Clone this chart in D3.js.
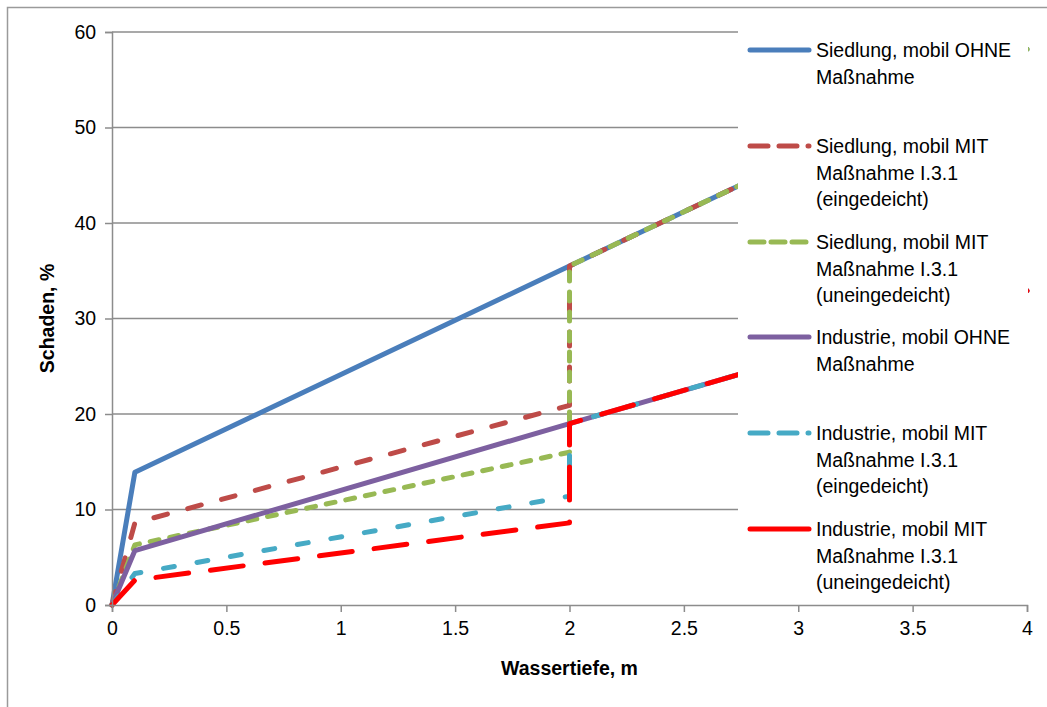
<!DOCTYPE html>
<html>
<head>
<meta charset="utf-8">
<script src="https://cdn.jsdelivr.net/npm/d3@7"></script>
<style>
  body { margin: 0; background: #fff; }
  text { font-family: "Liberation Sans", Arial, sans-serif; }
</style>
</head>
<body>
<div id="chart"></div>
<script>
// data
const depth = [0, 0.1, 2, 2, 4];
const siedlungOhne = [0, 13.9, 35.5, 35.5, 58.2];
const siedlungMitEin = [0, 8.6, 20.9, 35.5, 58.2];
const siedlungMitUnein = [0, 6.3, 16.0, 35.5, 58.2];
const industrieOhne = [0, 5.7, 19.0, 19.0, 32.9];
const industrieMitEin = [0, 3.3, 11.4, 19.0, 32.9];
const industrieMitUnein = [0, 2.6, 8.6, 19.0, 32.9];

const seriesNames = [
  ["Siedlung, mobil OHNE", "Maßnahme"],
  ["Siedlung, mobil MIT", "Maßnahme I.3.1", "(eingedeicht)"],
  ["Siedlung, mobil MIT", "Maßnahme I.3.1", "(uneingedeicht)"],
  ["Industrie, mobil OHNE", "Maßnahme"],
  ["Industrie, mobil MIT", "Maßnahme I.3.1", "(eingedeicht)"],
  ["Industrie, mobil MIT", "Maßnahme I.3.1", "(uneingedeicht)"]
];
const xTicks = [0, 0.5, 1, 1.5, 2, 2.5, 3, 3.5, 4];
const yTicks = [0, 10, 20, 30, 40, 50, 60];

const allValues = [siedlungOhne, siedlungMitEin, siedlungMitUnein,
                   industrieOhne, industrieMitEin, industrieMitUnein];

const styles = [
  {color: "#4A7EBB", dash: null, legendDash: null},
  {color: "#BE4B48", dash: "14,21", legendDash: "18,11"},
  {color: "#98B954", dash: "9,11", legendDash: "14,7"},
  {color: "#7D60A0", dash: null, legendDash: null},
  {color: "#46AAC5", dash: "11,23", legendDash: "18,11"},
  {color: "#FF0000", dash: "33,22", legendDash: null}
];

const width = 1047;
const height = 707;
const margin = {top: 32, left: 112, right: 20, bottom: 102};

const svg = d3.select("#chart")
  .append("svg")
  .attr("width", width)
  .attr("height", height);

// outer frame (left + top only visible)
svg.append("path")
  .attr("d", `M7.5,${height} V7.5 H${width}`)
  .attr("fill", "none")
  .attr("stroke", "#9a9a9a")
  .attr("stroke-width", 1.5);

const xScale = d3.scaleLinear()
  .domain([0, 4])
  .range([margin.left, width - margin.right]);

const yScale = d3.scaleLinear()
  .domain([0, 60])
  .range([height - margin.bottom, margin.top]);

// gridlines
svg.append("g")
  .selectAll("line")
  .data(yTicks.filter(d => d > 0))
  .enter()
  .append("line")
  .attr("x1", xScale(0))
  .attr("x2", xScale(4))
  .attr("y1", d => yScale(d))
  .attr("y2", d => yScale(d))
  .attr("stroke", "#8c8c8c")
  .attr("stroke-width", 1.3);

// series
const line = d3.line()
  .x(d => xScale(d[0]))
  .y(d => yScale(d[1]));

allValues.forEach(function(vals, i) {
  const pts = depth.map((x, j) => [x, vals[j]]);
  svg.append("path")
    .datum(pts)
    .attr("d", line)
    .attr("fill", "none")
    .attr("stroke", styles[i].color)
    .attr("stroke-width", 5)
    .attr("stroke-linecap", "round")
    .attr("stroke-linejoin", "round")
    .attr("stroke-dasharray", styles[i].dash);
});

// legend box covers the right part of the plot
const legendX = 738;
svg.append("rect")
  .attr("x", legendX)
  .attr("y", 28)
  .attr("width", xScale(4) + 1 - legendX)
  .attr("height", 576)
  .attr("fill", "#fff");

// axes
const xAxis = svg.append("g")
  .attr("class", "axis")
  .attr("transform", `translate(0,${yScale(0)})`)
  .call(d3.axisBottom(xScale).tickValues(xTicks).tickSize(7).tickFormat(d3.format("")));

const yAxis = svg.append("g")
  .attr("class", "axis")
  .attr("transform", `translate(${xScale(0)},0)`)
  .call(d3.axisLeft(yScale).tickValues(yTicks).tickSize(7).tickFormat(d3.format("")));

svg.selectAll(".axis path, .axis line")
  .attr("stroke", "#8c8c8c")
  .attr("stroke-width", 1.5);
svg.selectAll(".axis text")
  .attr("fill", "#000")
  .style("font-size", "19.5px");
xAxis.selectAll("text").attr("dy", "1.05em");
yAxis.selectAll("text").attr("dx", "-0.3em");

// axis titles
svg.append("text")
  .attr("x", (xScale(0) + xScale(4)) / 2)
  .attr("y", 675)
  .attr("text-anchor", "middle")
  .style("font-size", "19.5px")
  .style("font-weight", "bold")
  .text("Wassertiefe, m");

svg.append("text")
  .attr("x", -(yScale(0) + yScale(60)) / 2)
  .attr("y", 54)
  .attr("text-anchor", "middle")
  .attr("transform", "rotate(-90)")
  .style("font-size", "19.5px")
  .style("font-weight", "bold")
  .text("Schaden, %");

// legend entries
const legendRowY = [50, 146, 242, 337, 433, 529];
seriesNames.forEach(function(lines, i) {
  const y = legendRowY[i];
  svg.append("line")
    .attr("x1", 750)
    .attr("x2", 809)
    .attr("y1", y)
    .attr("y2", y)
    .attr("stroke", styles[i].color)
    .attr("stroke-width", 5)
    .attr("stroke-linecap", "round")
    .attr("stroke-dasharray", styles[i].legendDash);

  const t = svg.append("text")
    .attr("x", 816)
    .attr("y", y + 7)
    .style("font-size", "19.5px")
    .attr("fill", "#000");
  lines.forEach(function(s, k) {
    t.append("tspan")
      .attr("x", 816)
      .attr("dy", k === 0 ? 0 : 26.5)
      .text(s);
  });
});
</script>
</body>
</html>
